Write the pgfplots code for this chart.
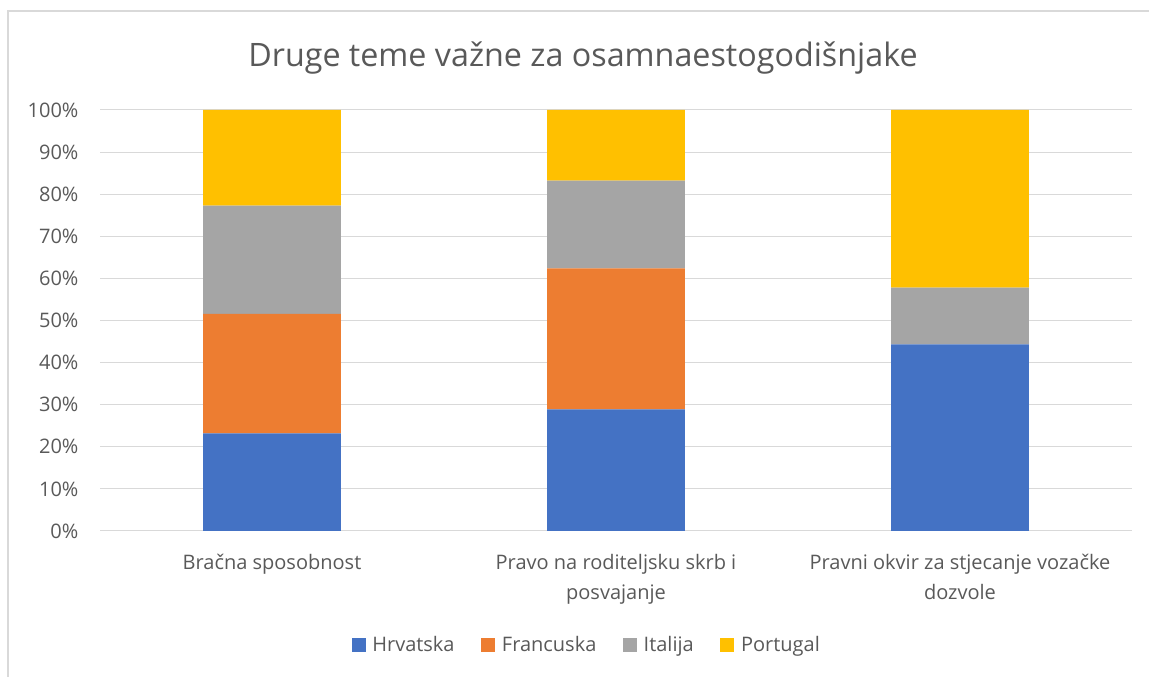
\documentclass[border=0pt]{standalone}
\usepackage{pgfplots}
\pgfplotsset{compat=1.18}
\usepackage{fontspec}
\setmainfont{Open Sans}
\definecolor{cBlue}{HTML}{4472C4}
\definecolor{cOrange}{HTML}{ED7D31}
\definecolor{cGray}{HTML}{A5A5A5}
\definecolor{cGold}{HTML}{FFC000}
\definecolor{cGrid}{HTML}{D9D9D9}
\definecolor{cText}{HTML}{595959}
\begin{document}
\begin{tikzpicture}
\useasboundingbox (0,0) rectangle (861.75pt,507.75pt);
\draw[cGrid,line width=1.5pt] (6pt,0pt) -- (6pt,499.5pt) -- (861.75pt,499.5pt);
\node[text=cText,font=\fontsize{24.2}{28}\selectfont] at (437.25pt,464.25pt) {Druge teme važne za osamnaestogodišnjake};
\begin{axis}[
  at={(75pt,109.5pt)}, anchor=south west,
  scale only axis, width=774pt, height=315.75pt,
  ybar stacked, bar width=0.4,
  xmin=-0.5, xmax=2.5, ymin=0, ymax=100,
  xtick=data,
  xticklabels={Bračna sposobnost, {Pravo na roditeljsku skrb i\\posvajanje}, {Pravni okvir za stjecanje vozačke\\dozvole}},
  xticklabel style={align=center, font=\fontsize{15}{22.5}\selectfont, text=cText, inner sep=0pt, anchor=north, yshift=-17pt},
  ytick={0,10,...,100},
  yticklabel={\pgfmathprintnumber{\tick}\%},
  /pgf/number format/assume math mode=true,
  yticklabel style={font=\fontsize{15}{18}\selectfont, text=cText, inner sep=0pt, anchor=east, xshift=-16pt},
  major tick length=0pt,
  ymajorgrids, grid style={cGrid, line width=0.75pt},
  axis line style={draw=none},
  legend columns=4,
  legend style={at={(0.472,-0.27)}, anchor=center, draw=none, fill=none,
    font=\fontsize{15}{18}\selectfont, text=cText,
    /tikz/every odd column/.append style={column sep=3pt},
    /tikz/every even column/.append style={column sep=18pt}},
  legend image code/.code={\fill[#1] (0pt,-5.25pt) rectangle (10.5pt,5.25pt);},
]
\addplot[fill=cBlue, draw=none] coordinates {(0,23.2) (1,28.9) (2,44.3)};
\addplot[fill=cOrange, draw=none] coordinates {(0,28.4) (1,33.5) (2,0)};
\addplot[fill=cGray, draw=none] coordinates {(0,25.7) (1,20.8) (2,13.5)};
\addplot[fill=cGold, draw=none] coordinates {(0,22.7) (1,16.8) (2,42.2)};
\legend{Hrvatska, Francuska, Italija, Portugal}
\end{axis}
\end{tikzpicture}
\end{document}
